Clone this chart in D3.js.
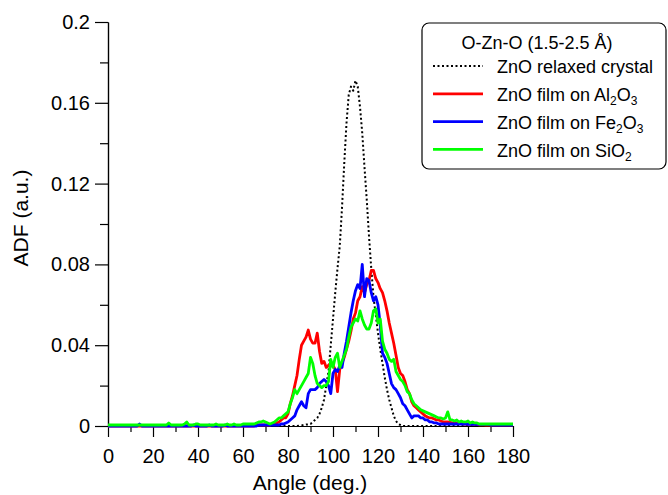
<!DOCTYPE html>
<html>
<head>
<meta charset="UTF-8">
<title>O-Zn-O ADF</title>
<style>
  body { margin: 0; background: #fff; font-family: 'Liberation Sans', Arial, sans-serif; }
  .axis text { font-size: 20px; fill: #000; font-family: 'Liberation Sans', Arial, sans-serif; }
  .axis line { stroke: #000; }
  .legend text { font-size: 18px; }
  .title { font-size: 21px; }
</style>
</head>
<body>
<script src="https://cdn.jsdelivr.net/npm/d3@7"></script>
<script>
// angle grid, 1 deg steps
var angles = d3.range(0, 181);

var relaxed = [
  0,0,0,0,0,0,0,0,0,0,
  0,0,0,0,0,0,0,0,0,0,
  0,0,0,0,0,0,0,0,0,0,
  0,0,0,0,0,0,0,0,0,0,
  0,0,0,0,0,0,0,0,0,0,
  0,0,0,0,0,0,0,0,0,0,
  0,0,0,0,0,0,0,0,0,0,
  0,0,0,0,0,0,0,0,0,0,
  0,0,0,0,0,0.0002,0.0003,0.0005,0.0007,0.0008,
  0.001,0.002,0.003,0.004,0.006,0.009,0.013,0.020,0.027,0.040,
  0.053,0.066,0.078,0.089,0.108,0.130,0.150,0.164,0.168,0.166,
  0.171,0.168,0.158,0.145,0.128,0.112,0.094,0.078,0.064,0.055,
  0.046,0.038,0.031,0.024,0.018,0.013,0.009,0.005,0.0025,0.001,
  0.0005,0,0,0,0,0,0,0,0,0,
  0,0,0,0,0,0,0,0,0,0,
  0,0,0,0,0,0,0,0,0,0,
  0,0,0,0,0,0,0,0,0,0,
  0,0,0,0,0,0,0,0,0,0,
  0
];

var al2o3 = [
  0,0,0,0,0,0,0,0,0,0,
  0,0,0,0,0,0,0,0,0,0,
  0,0,0,0,0,0,0,0,0,0,
  0,0,0,0,0,0,0,0,0,0,
  0,0,0,0,0,0,0,0,0,0,
  0,0,0,0,0,0,0,0,0,0,
  0,0,0,0,0,0,0.0003,0.0005,0.0005,0.0005,
  0.0005,0.0005,0.0005,0.001,0.001,0.0015,0.002,0.003,0.004,0.004,
  0.006,0.011,0.015,0.020,0.025,0.033,0.040,0.042,0.044,0.0475,
  0.043,0.041,0.041,0.046,0.037,0.031,0.032,0.029,0.030,0.031,
  0.030,0.028,0.017,0.028,0.031,0.034,0.038,0.042,0.047,0.053,
  0.056,0.062,0.064,0.069,0.066,0.070,0.072,0.077,0.077,0.073,
  0.071,0.068,0.066,0.062,0.057,0.051,0.046,0.041,0.035,0.029,
  0.026,0.025,0.022,0.018,0.016,0.012,0.010,0.009,0.008,0.007,
  0.006,0.005,0.0045,0.004,0.004,0.0035,0.003,0.003,0.0025,0.002,
  0.002,0.002,0.0018,0.0015,0.0015,0.0015,0.0012,0.0012,0.001,0.001,
  0.001,0.001,0.0008,0.0008,0.0008,0.0006,0.0006,0.0006,0.0005,0.0005,
  0.0005,0.0005,0.0005,0.0005,0.0005,0.0005,0.0005,0.0005,0.0005,0.0005,
  0.0005
];

var fe2o3 = [
  0,0,0,0,0,0,0,0,0,0,
  0,0,0,0,0.001,0,0,0,0,0,
  0,0,0,0,0,0,0,0,0,0,
  0,0,0,0,0,0,0,0,0.0005,0,
  0,0,0,0,0,0.0005,0,0,0,0,
  0,0,0.0005,0,0,0,0,0,0,0,
  0,0,0,0,0,0,0,0.0005,0.0005,0.0005,
  0.0005,0.0005,0.0005,0.0005,0.0005,0.0005,0.0005,0.001,0.001,0.0015,
  0.002,0.003,0.004,0.005,0.008,0.010,0.012,0.010,0.009,0.016,
  0.018,0.018,0.018,0.019,0.021,0.022,0.023,0.022,0.020,0.016,
  0.026,0.028,0.027,0.030,0.029,0.036,0.042,0.049,0.056,0.062,
  0.067,0.070,0.068,0.080,0.064,0.073,0.072,0.066,0.062,0.064,
  0.060,0.050,0.036,0.034,0.031,0.026,0.021,0.019,0.018,0.016,
  0.014,0.011,0.010,0.008,0.006,0.004,0.005,0.005,0.005,0.004,
  0.004,0.003,0.003,0.002,0.002,0.0015,0.0015,0.001,0.001,0.001,
  0.001,0.001,0.001,0.001,0.001,0.001,0.001,0.001,0.001,0.001,
  0.0008,0.0008,0.0008,0.0008,0.0008,0.0008,0.0008,0.0008,0.0008,0.0008,
  0.0005,0.0005,0.0005,0.0005,0.0005,0.0005,0.0005,0.0005,0.0005,0.0005,
  0.0005
];

var sio2 = [
  0.0005,0.0005,0.0005,0.0005,0.0005,0.0005,0.0005,0.0005,0.0005,0.0005,
  0.0005,0.0005,0.0005,0.0005,0.0005,0.0005,0.0005,0.0005,0.0005,0.0005,
  0.0005,0.0005,0.0005,0.0005,0.0005,0.0005,0.0005,0.0015,0.0005,0.0005,
  0.0005,0.0005,0.0005,0.0005,0.001,0.002,0.0005,0.0005,0.0005,0.001,
  0.001,0.0005,0.0005,0.0005,0.0005,0.0005,0.0005,0.0005,0.001,0.0005,
  0.0005,0.0005,0.0005,0.001,0.0005,0.0005,0.001,0.0005,0.0005,0.0005,
  0.001,0.001,0.001,0.001,0.001,0.001,0.0015,0.002,0.002,0.0025,
  0.002,0.0015,0.001,0.0015,0.002,0.003,0.004,0.004,0.005,0.006,
  0.007,0.011,0.014,0.018,0.016,0.018,0.020,0.022,0.024,0.026,
  0.034,0.031,0.025,0.021,0.020,0.019,0.020,0.020,0.022,0.033,
  0.029,0.034,0.036,0.029,0.032,0.035,0.038,0.044,0.049,0.051,
  0.053,0.052,0.057,0.053,0.050,0.048,0.048,0.051,0.057,0.058,
  0.051,0.053,0.042,0.038,0.036,0.033,0.032,0.033,0.027,0.025,
  0.023,0.022,0.020,0.017,0.016,0.013,0.011,0.010,0.009,0.008,
  0.0075,0.007,0.0065,0.006,0.0055,0.005,0.0045,0.004,0.004,0.0035,
  0.004,0.007,0.003,0.003,0.0025,0.003,0.002,0.0025,0.002,0.002,
  0.0025,0.0015,0.002,0.0015,0.0015,0.001,0.001,0.001,0.001,0.001,
  0.001,0.001,0.001,0.001,0.001,0.001,0.001,0.001,0.001,0.001,
  0.001
];

var xTicks = [0, 20, 40, 60, 80, 100, 120, 140, 160, 180];
var xMinor = [10, 30, 50, 70, 90, 110, 130, 150, 170];
var yTicks = [0, 0.04, 0.08, 0.12, 0.16, 0.2];
var yMinor = [0.02, 0.06, 0.1, 0.14, 0.18];

var seriesNames = ["ZnO relaxed crystal", "ZnO film on Al", "ZnO film on Fe", "ZnO film on SiO"];
var seriesColors = ["#000000", "#ff0000", "#0000ff", "#00ff00"];

var width = 668, height = 495;

var svg = d3.select("body").append("svg")
    .attr("width", width)
    .attr("height", height);

var x = d3.scaleLinear().domain([0, 180]).range([108, 513]);
var y = d3.scaleLinear().domain([0, 0.2]).range([426, 22]);

// axes
var xAxis = d3.axisBottom(x).tickValues(xTicks).tickSize(11).tickPadding(12).tickSizeOuter(0);
var xAxisMinor = d3.axisBottom(x).tickValues(xMinor).tickSize(6).tickFormat("").tickSizeOuter(0);
var yAxis = d3.axisLeft(y).tickValues(yTicks).tickSize(13).tickPadding(5).tickSizeOuter(0)
    .tickFormat(function(d) { return String(d); });
var yAxisMinor = d3.axisLeft(y).tickValues(yMinor).tickSize(8).tickFormat("").tickSizeOuter(0);

svg.append("g").attr("class", "axis").attr("transform", "translate(0,426)").call(xAxis);
svg.append("g").attr("class", "axis").attr("transform", "translate(0,426)").call(xAxisMinor);
svg.append("g").attr("class", "axis").attr("transform", "translate(108,0)").call(yAxis);
svg.append("g").attr("class", "axis").attr("transform", "translate(108,0)").call(yAxisMinor);
svg.selectAll(".axis path.domain").attr("stroke", "#000").attr("stroke-width", 1.2);
svg.selectAll(".axis line").attr("stroke-width", 1.2);

// axis titles
svg.append("text").attr("class", "title")
    .attr("x", 310).attr("y", 490)
    .attr("text-anchor", "middle")
    .text("Angle (deg.)");
svg.append("text").attr("class", "title")
    .attr("transform", "translate(28,218) rotate(-90)")
    .attr("text-anchor", "middle")
    .text("ADF (a.u.)");

// curves
var allSeries = [relaxed, al2o3, fe2o3, sio2];
var line = d3.line()
    .x(function(d, i) { return x(angles[i]); })
    .y(function(d) { return y(d); });

allSeries.forEach(function(s, k) {
    svg.append("path")
        .datum(s)
        .attr("fill", "none")
        .attr("stroke", seriesColors[k])
        .attr("stroke-width", k === 0 ? 2 : 2.8)
        .attr("stroke-dasharray", k === 0 ? "2,2.5" : null)
        .attr("stroke-linejoin", "round")
        .attr("d", line);
});

// legend
var lg = svg.append("g").attr("class", "legend");
lg.append("rect")
    .attr("x", 422).attr("y", 23)
    .attr("width", 244).attr("height", 146)
    .attr("rx", 7).attr("ry", 7)
    .attr("fill", "#fff").attr("stroke", "#000").attr("stroke-width", 1.2);
lg.append("text")
    .attr("x", 537).attr("y", 49)
    .attr("text-anchor", "middle")
    .text("O-Zn-O (1.5-2.5 \u00c5)");

var subs = [null, ["2", "O", "3"], ["2", "O", "3"], ["2"]];
seriesNames.forEach(function(name, k) {
    var ly = 66 + k * 27.8;
    lg.append("line")
        .attr("x1", 433).attr("x2", 483)
        .attr("y1", ly).attr("y2", ly)
        .attr("stroke", seriesColors[k])
        .attr("stroke-width", k === 0 ? 2 : 2.8)
        .attr("stroke-dasharray", k === 0 ? "2,2.5" : null);
    var t = lg.append("text").attr("x", 497).attr("y", ly + 7.3).text(name);
    var sub = subs[k];
    if (sub) {
        t.append("tspan").attr("dy", 4).attr("font-size", "12px").text(sub[0]);
        if (sub.length > 1) {
            t.append("tspan").attr("dy", -4).text(sub[1]);
            t.append("tspan").attr("dy", 4).attr("font-size", "12px").text(sub[2]);
        }
    }
});
</script>
</body>
</html>
